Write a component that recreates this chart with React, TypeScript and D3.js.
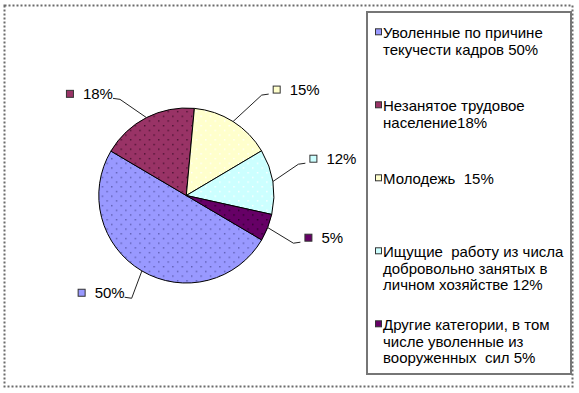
import React, { useEffect, useRef } from "react";
import * as d3 from "d3";

const categories = [
  "Уволенные по причине текучести кадров",
  "Незанятое трудовое население",
  "Молодежь",
  "Ищущие работу из числа добровольно занятых в личном хозяйстве",
  "Другие категории, в том числе уволенные из вооруженных сил",
];
const values = [50, 18, 15, 12, 5];
const valueLabels = ["50%", "18%", "15%", "12%", "5%"];
const legendLines = [
  ["Уволенные по причине", "текучести кадров 50%"],
  ["Незанятое трудовое", "население18%"],
  ["Молодежь  15%"],
  ["Ищущие  работу из числа", "добровольно занятых в", "личном хозяйстве 12%"],
  ["Другие категории, в том", "числе уволенные из", "вооруженных  сил 5%"],
];
const colors = ["#9999FF", "#993366", "#FFFFCC", "#CCFFFF", "#660066"];
const dotColors = ["#5c5cb0", "#4a1030", "#ffffff", "#ffffff", "#2a002a"];

// layout constants (not data)
const W = 579;
const H = 393;
const CX = 186.3;
const CY = 195.5;
const R = 87.5;
const START_DEG = 120.5;
const labelAngleNudge = [-2.5, -7.5, 4.6, -6.5, 2.5];
const labelRadiusFactor = [1.33, 1.335, 1.435, 1.33, 1.34];
const FONT = "'Liberation Sans', Arial, sans-serif";

export default function App() {
  const ref = useRef<SVGSVGElement | null>(null);

  useEffect(() => {
    const svg = d3.select(ref.current);
    svg.selectAll("*").remove();

    const defs = svg.append("defs");
    colors.forEach((c, i) => {
      const p = defs
        .append("pattern")
        .attr("id", `dots${i}`)
        .attr("patternUnits", "userSpaceOnUse")
        .attr("width", 9.4)
        .attr("height", 9.4);
      p.append("rect").attr("width", 9.4).attr("height", 9.4).attr("fill", c);
      p.append("rect").attr("x", 0).attr("y", 0).attr("width", 1.4).attr("height", 1.4).attr("fill", dotColors[i]);
      p.append("rect").attr("x", 4.7).attr("y", 4.7).attr("width", 1.4).attr("height", 1.4).attr("fill", dotColors[i]);
    });

    // outer dotted border
    svg
      .append("rect")
      .attr("x", 4.5)
      .attr("y", 5.5)
      .attr("width", 568)
      .attr("height", 381)
      .attr("fill", "#fff")
      .attr("stroke", "#6b6b6b")
      .attr("stroke-width", 2)
      .attr("stroke-dasharray", "2,2");

    const pie = d3
      .pie<number>()
      .sort(null)
      .startAngle((START_DEG * Math.PI) / 180)
      .endAngle(((START_DEG + 360) * Math.PI) / 180);
    const arcs = pie(values);
    const arc = d3.arc<d3.PieArcDatum<number>>().innerRadius(0).outerRadius(R);

    const g = svg.append("g").attr("transform", `translate(${CX},${CY})`);
    g.selectAll("path.slice")
      .data(arcs)
      .enter()
      .append("path")
      .attr("class", "slice")
      .attr("d", arc)
      .attr("fill", (_d, i) => `url(#dots${i})`)
      .attr("stroke", "#000")
      .attr("stroke-width", 1)
      .attr("stroke-linejoin", "round");

    // labels
    const labelsG = svg.append("g");
    arcs.forEach((a, i) => {
      const mid = (a.startAngle + a.endAngle) / 2;
      const p0 = [CX + Math.sin(mid) * R, CY - Math.cos(mid) * R];
      const la = mid + (labelAngleNudge[i] * Math.PI) / 180;
      const lr = R * labelRadiusFactor[i];
      const elbow = [CX + Math.sin(la) * lr, CY - Math.cos(la) * lr];
      const right = elbow[0] > CX;
      const p2 = [elbow[0] + (right ? 7 : -7), elbow[1] - 1];
      labelsG
        .append("path")
        .attr("d", d3.line()([p0 as [number, number], elbow as [number, number], p2 as [number, number]]))
        .attr("fill", "none")
        .attr("stroke", "#222")
        .attr("stroke-width", 1);

      const ty = elbow[1] - 5.5;
      if (right) {
        const mx = p2[0] + 4;
        labelsG
          .append("rect")
          .attr("x", mx + 0.5)
          .attr("y", ty - 3.5)
          .attr("width", 7)
          .attr("height", 7)
          .attr("fill", colors[i])
          .attr("stroke", "#333")
          .attr("stroke-width", 1);
        labelsG
          .append("text")
          .attr("x", mx + 17)
          .attr("y", ty)
          .attr("dominant-baseline", "central")
          .attr("font-family", FONT)
          .attr("font-size", 15)
          .attr("fill", "#000")
          .text(valueLabels[i]);
      } else {
        const t = labelsG
          .append("text")
          .attr("x", p2[0])
          .attr("y", ty)
          .attr("text-anchor", "end")
          .attr("dominant-baseline", "central")
          .attr("font-family", FONT)
          .attr("font-size", 15)
          .attr("fill", "#000")
          .text(valueLabels[i]);
        const tw = (t.node() as SVGTextElement).getComputedTextLength();
        const mx = p2[0] - tw - 9 - 8;
        labelsG
          .append("rect")
          .attr("x", mx + 0.5)
          .attr("y", ty - 3.5)
          .attr("width", 7)
          .attr("height", 7)
          .attr("fill", colors[i])
          .attr("stroke", "#333")
          .attr("stroke-width", 1);
      }
    });

    // legend
    const lg = svg.append("g");
    lg.append("rect")
      .attr("x", 367)
      .attr("y", 12)
      .attr("width", 204)
      .attr("height", 362)
      .attr("fill", "#fff")
      .attr("stroke", "#767676")
      .attr("stroke-width", 2);

    const itemY = d3.scaleLinear().domain([0, categories.length - 1]).range([32.3, 324.3]);
    legendLines.forEach((lines, i) => {
      const y0 = itemY(i);
      lg.append("rect")
        .attr("x", 375.5)
        .attr("y", y0 - 3.5)
        .attr("width", 6)
        .attr("height", 6)
        .attr("fill", colors[i])
        .attr("stroke", "#333")
        .attr("stroke-width", 1);
      lines.forEach((ln, j) => {
        lg.append("text")
          .attr("x", 383)
          .attr("y", y0 + j * 16.8)
          .attr("dominant-baseline", "central")
          .attr("font-family", FONT)
          .attr("font-size", 15)
          .attr("fill", "#000")
          .style("white-space", "pre")
          .text(ln);
      });
    });
  }, []);

  return (
    <svg
      ref={ref}
      width={W}
      height={H}
      style={{ position: "absolute", left: 0, top: 0, background: "#fff" }}
    />
  );
}
